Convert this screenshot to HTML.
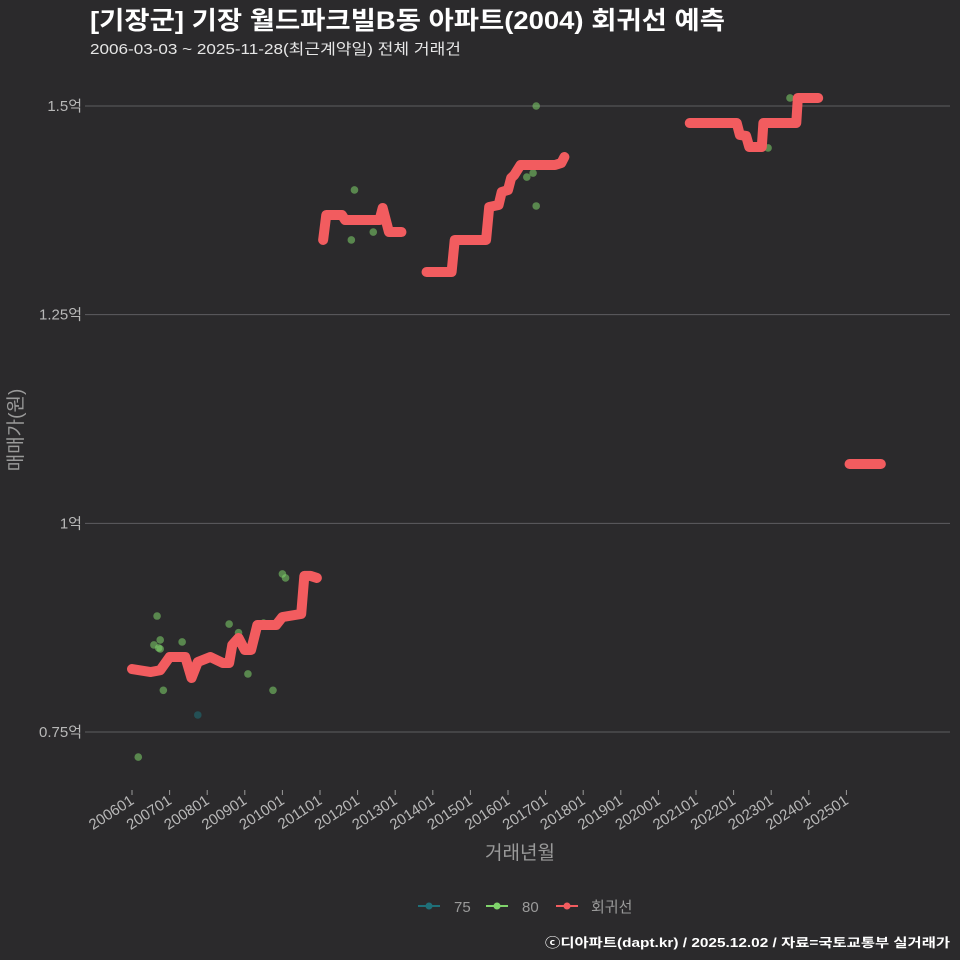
<!DOCTYPE html>
<html><head><meta charset="utf-8">
<style>
html,body{margin:0;padding:0;background:#2b2a2c;}
svg{display:block;font-family:"Liberation Sans","Noto Sans CJK KR",sans-serif;}
</style></head>
<body>
<svg id="chart" width="960" height="960" viewBox="0 0 960 960">
<rect width="960" height="960" fill="#2b2a2c"/>
<text x="90" y="29" fill="#ffffff" font-size="25" font-weight="bold" textLength="635" lengthAdjust="spacingAndGlyphs">[기장군] 기장 월드파크빌B동 아파트(2004) 회귀선 예측</text>
<text x="90" y="54" fill="#e6e6e6" font-size="15" textLength="371" lengthAdjust="spacingAndGlyphs">2006-03-03 ~ 2025-11-28(최근계약일) 전체 거래건</text>
<g id="grid"></g>
<g id="xaxis"></g>
<g id="pts"></g>
<g id="lines"></g>
<text x="0" y="0" transform="translate(22,430) rotate(-90)" text-anchor="middle" fill="#9a9a9a" font-size="19">매매가(원)</text>
<text x="520" y="859" text-anchor="middle" fill="#9a9a9a" font-size="19">거래년월</text>
<g>
  <g>
    <line x1="418" y1="906" x2="440" y2="906" stroke="#1f6f78" stroke-width="2"/>
    <circle cx="429" cy="906" r="3.5" fill="#1f6f78"/>
    <text x="454" y="912" fill="#9a9a9a" font-size="15">75</text>
  </g>
  <g>
    <line x1="486" y1="906" x2="508" y2="906" stroke="#7fd36b" stroke-width="2"/>
    <circle cx="497" cy="906" r="3.5" fill="#7fd36b"/>
    <text x="522" y="912" fill="#9a9a9a" font-size="15">80</text>
  </g>
  <g>
    <line x1="556" y1="906" x2="578" y2="906" stroke="#f25c5f" stroke-width="2"/>
    <circle cx="567" cy="906" r="3.5" fill="#f25c5f"/>
    <text x="591" y="912" fill="#9a9a9a" font-size="15">회귀선</text>
  </g>
</g>
<text x="950" y="947" text-anchor="end" fill="#ffffff" font-size="12.5" font-weight="bold" textLength="405" lengthAdjust="spacingAndGlyphs">ⓒ디아파트(dapt.kr) / 2025.12.02 / 자료=국토교통부 실거래가</text>
</svg>
<script>
// y ticks (만원)
const yTicks = [7500, 10000, 12500, 15000];
const yTickLabels = ["0.75억", "1억", "1.25억", "1.5억"];
// x ticks (months since 2006-01)
const xTicks = [0,12,24,36,48,60,72,84,96,108,120,132,144,156,168,180,192,204,216,228];
const xTickLabels = ["200601","200701","200801","200901","201001","201101","201201","201301","201401","201501","201601","201701","201801","201901","202001","202101","202201","202301","202401","202501"];
// regression line segments: months and values (만원)
const seg1M = [0,6,9,12,17,19,21,25,29,31,32,34,36,38,40,46,48,54,55,57,59];
const seg1V = [8255,8219,8240,8399,8399,8147,8339,8399,8327,8327,8543,8627,8483,8483,8782,8782,8878,8914,9370,9370,9346];
const seg2M = [61,62,67,68,79,80,82,86];
const seg2V = [13395,13694,13694,13634,13634,13778,13490,13490];
const seg3M = [94,102,103,113,114,117,118,120,121,122,124,135,137,138];
const seg3V = [13011,13011,13395,13395,13790,13814,13970,13994,14137,14173,14293,14293,14317,14389];
const seg4M = [178,193,194,196,197,201,201.5,212,212.5,219];
const seg4V = [14796,14796,14653,14641,14509,14509,14796,14796,15096,15096];
const seg5M = [229,239];
const seg5V = [10711,10711];
// scatter: area 80
const p80M = [2,8,7,9,8.5,9,10,16,31,34,37,42,45,48,49,70,71,77,114,126,128,129,129,203,210];
const p80V = [7200,8890,8543,8603,8507,8495,8000,8579,8794,8690,8196,8806,8000,9394,9346,13395,13994,13490,13790,14149,14197,13802,15000,14497,15096];
// scatter: area 75
const p75M = [21];
const p75V = [7704];

const NS = "http://www.w3.org/2000/svg";
const X0 = 132, PXM = 37.6/12;
function xs(m){ return X0 + m*PXM; }
function ys(v){ return 106 + (15000 - v)*0.08347; }

const grid = document.getElementById('grid');
yTicks.forEach((t,i)=>{
  const l = document.createElementNS(NS,'line');
  l.setAttribute('x1',85); l.setAttribute('x2',950);
  l.setAttribute('y1',ys(t)); l.setAttribute('y2',ys(t));
  l.setAttribute('stroke','#5e5d60'); l.setAttribute('stroke-width','1');
  
  
  grid.appendChild(l);
  const tx = document.createElementNS(NS,'text');
  tx.setAttribute('x',82); tx.setAttribute('y',ys(t)+5);
  tx.setAttribute('text-anchor','end'); tx.setAttribute('fill','#b8b8b8'); tx.setAttribute('font-size','15');
  tx.textContent = yTickLabels[i];
  
  
  grid.appendChild(tx);
});
const xa = document.getElementById('xaxis');
xTicks.forEach((m,i)=>{
  const x = xs(m);
  const l = document.createElementNS(NS,'line');
  l.setAttribute('x1',x); l.setAttribute('x2',x); l.setAttribute('y1',790); l.setAttribute('y2',795);
  l.setAttribute('stroke','#9a9a9a');
  
  
  xa.appendChild(l);
  const tx = document.createElementNS(NS,'text');
  tx.setAttribute('transform','translate('+(x+3)+',803) rotate(-33)');
  tx.setAttribute('text-anchor','end'); tx.setAttribute('fill','#b8b8b8'); tx.setAttribute('font-size','15');
  tx.textContent = xTickLabels[i];
  
  
  xa.appendChild(tx);
});
const pts = document.getElementById('pts');
function addPts(M,V,col,name){
  M.forEach((m,i)=>{
    const c = document.createElementNS(NS,'circle');
    c.setAttribute('cx',xs(m)); c.setAttribute('cy',ys(V[i])); c.setAttribute('r',3.8);
    c.setAttribute('fill',col); c.setAttribute('fill-opacity','0.55');
    
    
    pts.appendChild(c);
  });
}
addPts(p75M,p75V,'#1f6f78','point-75');
addPts(p80M,p80V,'#7fd36b','point-80');
const lines = document.getElementById('lines');
[[seg1M,seg1V],[seg2M,seg2V],[seg3M,seg3V],[seg4M,seg4V],[seg5M,seg5V]].forEach(([M,V])=>{
  const p = document.createElementNS(NS,'polyline');
  p.setAttribute('points', M.map((m,i)=>xs(m)+','+ys(V[i])).join(' '));
  p.setAttribute('fill','none'); p.setAttribute('stroke','#f25c5f');
  p.setAttribute('stroke-width','10'); p.setAttribute('stroke-linecap','round'); p.setAttribute('stroke-linejoin','round');
  
  
  lines.appendChild(p);
});
</script>
</body></html>
